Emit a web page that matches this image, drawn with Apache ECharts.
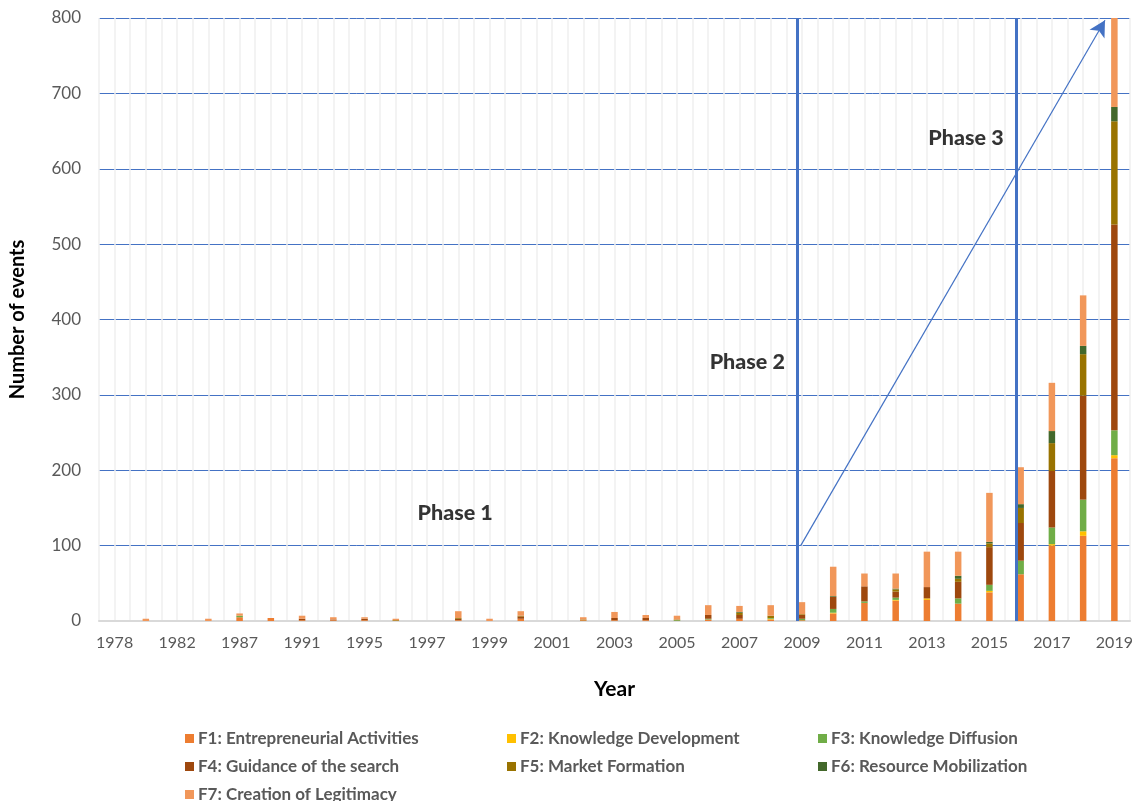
<!DOCTYPE html>
<html>
<head>
<meta charset="utf-8">
<script src="https://cdn.jsdelivr.net/npm/echarts@6/dist/echarts.min.js"></script>
<style>
  html, body { margin: 0; padding: 0; background: #fff; }
  #chart { width: 1140px; height: 801px; }
</style>
</head>
<body>
<div id="chart"></div>
<script>
// Years with recorded events (labels shown on every other category)
const years = ['1978','1980','1982','1985','1987','1989','1991','1993','1995','1996','1997','1998','1999','2000','2001','2002','2003','2004','2005','2006','2007','2008','2009','2010','2011','2012','2013','2014','2015','2016','2017','2018','2019'];

// Number of events per function and year
const f1 = [0,0,0,0,5,4,1,1,1,0,0,1,0,3,0,1,1,1,0,2,3,2,1,10,24,27,28,23,38,62,100,113,216];
const f2 = [0,0,0,0,0,0,0,0,0,0,0,0,0,0,0,0,0,0,0,0,0,1,0,1,0,1,2,0,2,0,2,6,4];
const f3 = [0,0,0,0,2,0,0,0,0,0,0,0,0,0,0,0,0,0,1,1,0,1,2,5,2,3,0,7,8,18,22,42,33];
const f4 = [0,0,0,0,0,0,2,1,2,0,0,2,0,3,0,0,3,3,0,5,5,0,5,16,20,8,15,22,50,50,75,138,273];
const f5 = [0,0,0,0,0,0,0,0,0,1,0,1,0,1,0,1,0,0,1,0,3,3,1,0,0,3,0,4,5,20,37,55,137];
const f6 = [0,0,0,0,0,0,0,0,0,0,0,0,0,0,0,0,0,0,0,0,1,0,0,1,0,1,0,4,2,5,16,11,19];
const f7 = [0,3,0,3,3,0,4,3,2,2,0,9,3,6,0,3,8,4,5,13,8,14,16,39,17,20,47,32,65,49,64,67,118];

const seriesNames = [
  'F1: Entrepreneurial Activities',
  'F2: Knowledge Development',
  'F3: Knowledge Diffusion',
  'F4: Guidance of the search',
  'F5: Market Formation',
  'F6: Resource Mobilization',
  'F7: Creation of Legitimacy'
];
const seriesValues = [f1, f2, f3, f4, f5, f6, f7];
const seriesColors = ['#ED7D31', '#FFC000', '#70AD47', '#9E480E', '#997300', '#43682B', '#F1975A'];

// Phase annotations, in (category position, events) units
const phaseLabels = [
  [11.4, 143, 'Phase 1'],
  [20.75, 344, 'Phase 2'],
  [27.75, 641, 'Phase 3']
];
const phaseBoundaries = [22.35, 29.36];
const growthArrow = [[22.46, 100], [32.2, 797]];

const FONT = 'Lato, "Open Sans", sans-serif';
const BLUE = '#4472C4';

const chart = echarts.init(document.getElementById('chart'), null, { renderer: 'canvas' });

const barSeries = seriesNames.map((name, i) => ({
  name: name,
  type: 'bar',
  stack: 'events',
  xAxisIndex: 0,
  yAxisIndex: 0,
  barWidth: 6.5,
  itemStyle: { color: seriesColors[i] },
  data: seriesValues[i]
}));

const legendBase = {
  orient: 'vertical',
  itemWidth: 9,
  itemHeight: 9,
  itemGap: 11,
  padding: 0,
  height: 120,
  icon: 'rect',
  textStyle: { fontFamily: FONT, fontSize: 17, fontWeight: 'bold', color: '#595959', padding: [0, 0, 0, -1] },
  top: 730
};

chart.setOption({
  animation: false,
  textStyle: { fontFamily: FONT },
  grid: { left: 99, right: 10, top: 18, bottom: 180, containLabel: false },
  legend: [
    Object.assign({}, legendBase, { left: 185, data: [seriesNames[0], seriesNames[3], seriesNames[6]] }),
    Object.assign({}, legendBase, { left: 507, data: [seriesNames[1], seriesNames[4]] }),
    Object.assign({}, legendBase, { left: 818, data: [seriesNames[2], seriesNames[5]] })
  ],
  xAxis: [
    {
      type: 'category',
      data: years,
      boundaryGap: true,
      name: 'Year',
      nameLocation: 'middle',
      nameGap: 58,
      nameTextStyle: { fontFamily: FONT, fontSize: 21, fontWeight: 'bold', color: '#000' },
      axisLine: { lineStyle: { color: '#D9D9D9', width: 2 } },
      axisTick: { show: false },
      axisLabel: { interval: 1, fontSize: 16, color: '#595959', margin: 14, fontFamily: FONT },
      splitLine: { show: false }
    },
    {
      // fine vertical grid at every half category
      type: 'value',
      min: 0,
      max: 33,
      interval: 0.5,
      show: true,
      position: 'bottom',
      axisLine: { show: false },
      axisTick: { show: false },
      axisLabel: { show: false },
      splitLine: { show: true, lineStyle: { color: '#EFEFEF', width: 1.5 } },
      z: 0
    }
  ],
  yAxis: {
    type: 'value',
    min: 0,
    max: 800,
    interval: 100,
    name: 'Number of events',
    nameLocation: 'middle',
    nameGap: 71,
    nameRotate: 90,
    nameTextStyle: { fontFamily: FONT, fontSize: 20, fontWeight: 'bold', color: '#000' },
    axisLine: { show: false },
    axisTick: { show: false },
    axisLabel: { fontSize: 17, color: '#595959', margin: 18, fontFamily: FONT },
    splitLine: { lineStyle: { color: BLUE, width: 1 } }
  },
  series: barSeries.concat([
    {
      name: 'phases',
      type: 'scatter',
      xAxisIndex: 1,
      yAxisIndex: 0,
      symbolSize: 0,
      silent: true,
      z: 5,
      data: phaseLabels,
      label: {
        show: true,
        position: 'inside',
        formatter: p => p.value[2],
        fontFamily: FONT,
        fontSize: 21.5,
        fontWeight: 900,
        color: '#000'
      },
      markLine: {
        silent: true,
        animation: false,
        label: { show: false },
        data: [
          [
            { coord: [phaseBoundaries[0], 0], symbol: 'none', lineStyle: { color: BLUE, width: 3, type: 'solid' } },
            { coord: [phaseBoundaries[0], 800], symbol: 'none' }
          ],
          [
            { coord: [phaseBoundaries[1], 0], symbol: 'none', lineStyle: { color: BLUE, width: 3, type: 'solid' } },
            { coord: [phaseBoundaries[1], 800], symbol: 'none' }
          ],
          [
            { coord: growthArrow[0], symbol: 'none', lineStyle: { color: BLUE, width: 1.2, type: 'solid' } },
            { coord: growthArrow[1], symbol: 'arrow', symbolSize: [13, 16] }
          ]
        ]
      }
    }
  ])
});
</script>
</body>
</html>
